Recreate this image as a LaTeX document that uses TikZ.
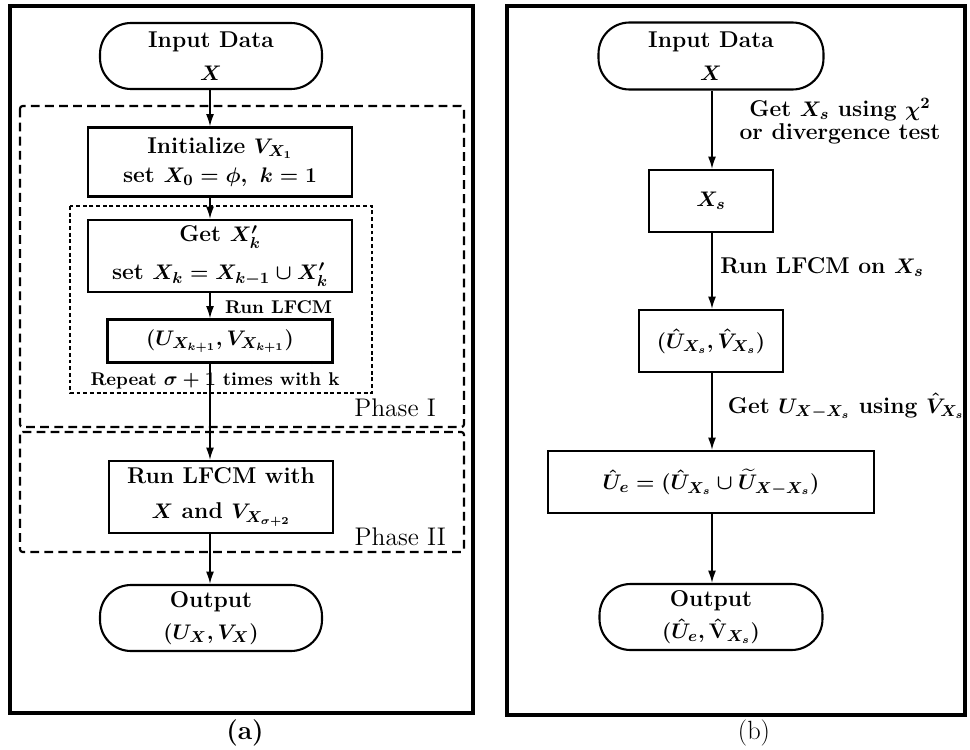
\documentclass[tikz,border=0pt]{standalone}
\usepackage{amsmath,amssymb}
\usepackage{bm}
\usetikzlibrary{arrows.meta, positioning}

\tikzset{
  blk/.style={draw, line width=1.2pt, align=center, inner sep=1pt,
    font=\fontsize{13}{15.5}\selectfont\bfseries\boldmath},
  term/.style={blk, rounded corners=0.62cm},
  lbl/.style={align=center, inner sep=1pt,
    font=\fontsize{13}{13}\selectfont\bfseries\boldmath},
  lblsmall/.style={lbl, font=\fontsize{10.5}{12}\selectfont\bfseries\boldmath},
  phase/.style={anchor=east, inner sep=1pt, font=\fontsize{14.5}{17}\selectfont},
  arr/.style={-{Latex[length=7pt,width=4.5pt]}, line width=0.9pt},
  panel/.style={line width=2.2pt},
  phasebox/.style={line width=1.2pt, dash pattern=on 5pt off 3pt, rounded corners=1.5pt},
  loopbox/.style={line width=1.1pt, dash pattern=on 2.2pt off 1.6pt}
}

\begin{document}
\begin{tikzpicture}[x=0.02cm, y=-0.02cm]
  \useasboundingbox (0,0) rectangle (970,750);

  % Panels
  \draw[panel] (10,6) rectangle (473,713);
  \draw[panel] (507,6) rectangle (965,715);

  % Phase boxes (a)
  \draw[phasebox] (20,106) rectangle (464,427);
  \draw[phasebox] (20,432) rectangle (464,552);
  \draw[loopbox] (70,206) rectangle (372,393);

  % Flow (a)
  \coordinate (spineA) at (210,0);
  \node[term, minimum width=4.44cm, minimum height=1.32cm] (inA) at (211,56) {Input Data\\[3pt]$X$};
  \node[blk, minimum width=5.28cm, minimum height=1.38cm] (init) at (220,162) {Initialize $V_{X_1}$\\[1pt]set $X_0=\phi,\ k=1$};
  \node[blk, minimum width=5.28cm, minimum height=1.44cm] (getk) at (220,256) {Get $X'_k$\\[6pt]set $X_k=X_{k-1}\cup X'_k$};
  \node[blk, minimum width=4.5cm, minimum height=0.86cm] (uvk) at (220,341) {$(U_{X_{k+1}},V_{X_{k+1}})$};
  \node[blk, minimum width=4.48cm, minimum height=1.44cm] (lfcm) at (221,497) {Run LFCM with\\[4.5pt]$X$ and $V_{X_{\sigma+2}}$};
  \node[term, minimum width=4.44cm, minimum height=1.32cm] (outA) at (211,618) {Output\\[3pt]$(U_X,V_X)$};

  \draw[arr] (spineA |- inA.south) -- (spineA |- init.north);
  \draw[arr] (spineA |- init.south) -- (spineA |- getk.north);
  \draw[arr] (spineA |- getk.south) -- (spineA |- uvk.north);
  \draw[arr] (spineA |- uvk.south) -- (spineA |- lfcm.north);
  \draw[arr] (spineA |- lfcm.south) -- (spineA |- outA.north);

  \node[lblsmall, anchor=west] (runA) at (223,307) {Run LFCM};
  \node[lblsmall] (repA) at (215,381) {Repeat $\sigma+1$ times with k};
  \node[phase] (ph1) at (438,408) {Phase I};
  \node[phase] (ph2) at (448,537) {Phase II};

  % Flow (b)
  \coordinate (spineB) at (712,0);
  \node[term, minimum width=4.5cm, minimum height=1.34cm] (inB) at (711,56) {Input Data\\[3pt]$X$};
  \node[blk, minimum width=2.48cm, minimum height=1.24cm] (xs) at (711,201) {$X_s$};
  \node[blk, minimum width=2.88cm, minimum height=1.24cm] (uvs) at (711,341) {$(\hat U_{X_s},\hat V_{X_s})$};
  \node[blk, minimum width=6.52cm, minimum height=1.24cm] (ue) at (711,482) {$\hat U_e=(\hat U_{X_s}\cup\widetilde U_{X-X_s})$};
  \node[term, minimum width=4.46cm, minimum height=1.32cm] (outB) at (711,617) {Output\\[3pt]$(\hat U_e,\hat{\mathrm V}_{X_s})$};

  \draw[arr] (spineB |- inB.south) -- (spineB |- xs.north);
  \draw[arr] (spineB |- xs.south) -- (spineB |- uvs.north);
  \draw[arr] (spineB |- uvs.south) -- (spineB |- ue.north);
  \draw[arr] (spineB |- ue.south) -- (spineB |- outB.north);

  \node[lbl] (selB) at (840,121) {Get $X_s$ using $\chi^2$\\or divergence test};
  \node[lbl] (runB) at (822,267) {Run LFCM on $X_s$};
  \node[lbl] (estB) at (846,406) {Get $U_{X-X_s}$ using $\hat V_{X_s}$};

  % Captions
  \node[font=\fontsize{15}{17}\selectfont\bfseries] (capA) at (245,733) {(a)};
  \node[font=\fontsize{15}{17}\selectfont] (capB) at (754,733) {(b)};
\end{tikzpicture}
\end{document}
